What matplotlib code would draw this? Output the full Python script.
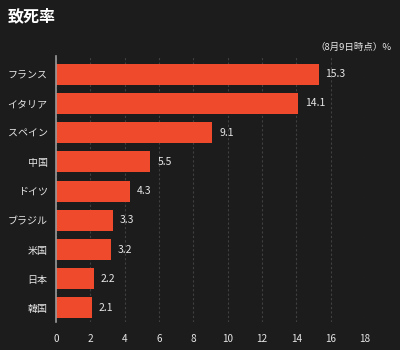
import matplotlib
matplotlib.use("Agg")
import matplotlib.pyplot as plt

plt.rcParams['font.family'] = ['Noto Sans CJK JP', 'DejaVu Sans']

countries = ['フランス', 'イタリア', 'スペイン', '中国', 'ドイツ', 'ブラジル', '米国', '日本', '韓国']
rates = [15.3, 14.1, 9.1, 5.5, 4.3, 3.3, 3.2, 2.2, 2.1]
xticks = [0, 2, 4, 6, 8, 10, 12, 14, 16, 18]

bg = '#1c1c1c'
bar_color = '#ee4a2b'
text_color = '#e6e6e6'

fig = plt.figure(figsize=(4, 3.5), dpi=100, facecolor=bg)
ax = fig.add_axes([0.14, 0.08, 0.7725, 0.76], facecolor=bg)

y = list(range(len(countries)))
ax.barh(y, rates, height=0.72, color=bar_color, zorder=3)

for yi, v in zip(y, rates):
    ax.text(v + 0.4, yi, f'{v}', va='center', ha='left', color=text_color, fontsize=7.5)

ax.set_xlim(0, 18)
ax.set_ylim(8.48, -0.62)
ax.set_xticks(xticks)
ax.set_xticklabels([str(t) for t in xticks])
ax.set_yticks(y)
ax.set_yticklabels(countries)

ax.grid(axis='x', color='#404040', linestyle=(0, (2, 2)), linewidth=0.8, zorder=0)
for s in ['top', 'right', 'bottom']:
    ax.spines[s].set_visible(False)
ax.spines['left'].set_color('#9a9a9a')
ax.spines['left'].set_linewidth(1.2)
ax.spines['left'].set_zorder(4)

ax.tick_params(axis='both', length=0, colors=text_color, labelsize=7.2)
ax.tick_params(axis='y', pad=6)
ax.tick_params(axis='x', pad=9)

fig.text(0.02, 0.955, '致死率', color='white', fontsize=11.5, fontweight='bold', va='center', ha='left')
fig.text(0.978, 0.865, '（8月9日時点）%', color=text_color, fontsize=6.8, va='center', ha='right')

fig.savefig('out.png', dpi=100, facecolor=bg)
